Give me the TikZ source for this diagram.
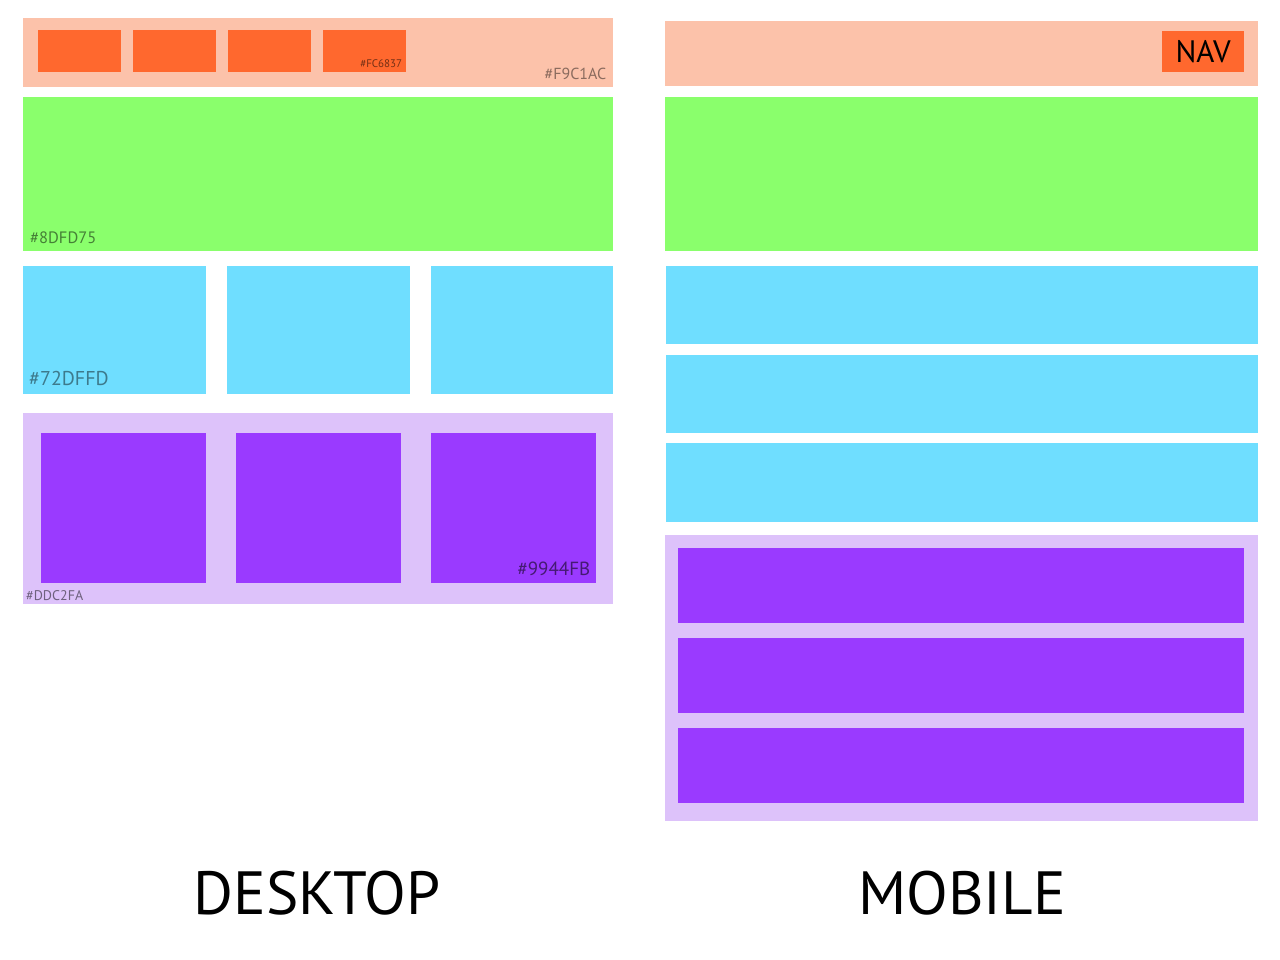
\documentclass[tikz,border=0pt]{standalone}
\usepackage{fontspec}
\setmainfont{PT Sans}
\usetikzlibrary{positioning}
\definecolor{hdrbg}{HTML}{FCC2AA}
\definecolor{navor}{HTML}{FF682E}
\definecolor{herogr}{HTML}{8AFF6C}
\definecolor{cardcy}{HTML}{6FDEFF}
\definecolor{footlv}{HTML}{DDC2FA}
\definecolor{footpu}{HTML}{9A3AFF}
\tikzset{
  box/.style={fill=#1, inner sep=0pt, anchor=north west},
  hexlbl/.style={inner sep=1pt, font=\fontsize{16}{16}\selectfont},
  title/.style={font=\fontsize{61}{61}\selectfont, text=black}
}
\begin{document}
\begin{tikzpicture}[x=1pt, y=-1pt]
\fill[white] (0,0) rectangle (1280,960);
\useasboundingbox (0,0) rectangle (1280,960);
% desktop
\node[box=hdrbg, minimum width=590pt, minimum height=69pt] (dhdr) at (23,18) {};
\node[box=navor, minimum width=83pt, minimum height=42pt] (dn1) at (38,30) {};
\node[box=navor, minimum width=83pt, minimum height=42pt] (dn2) at (133,30) {};
\node[box=navor, minimum width=83pt, minimum height=42pt] (dn3) at (228,30) {};
\node[box=navor, minimum width=83pt, minimum height=42pt] (dn4) at (323,30) {};
\node[hexlbl, anchor=south east, font=\fontsize{11}{11}\selectfont, text=navor!45!black] at ([xshift=-3pt, yshift=4pt]dn4.south east) {\#FC6837};
\node[hexlbl, anchor=south east, text=hdrbg!55!black] at ([xshift=-6pt, yshift=7pt]dhdr.south east) {\#F9C1AC};
\node[box=herogr, minimum width=590pt, minimum height=154pt] (dhero) at (23,97) {};
\node[hexlbl, anchor=south west, font=\fontsize{16.5}{16.5}\selectfont, text=herogr!50!black] at ([xshift=6pt, yshift=7pt]dhero.south west) {\#8DFD75};
\node[box=cardcy, minimum width=183pt, minimum height=128pt] (dc1) at (23,266) {};
\node[box=cardcy, minimum width=183pt, minimum height=128pt] (dc2) at (227,266) {};
\node[box=cardcy, minimum width=182pt, minimum height=128pt] (dc3) at (431,266) {};
\node[hexlbl, anchor=south west, font=\fontsize{20}{20}\selectfont, text=cardcy!55!black] at ([xshift=5pt, yshift=8pt]dc1.south west) {\#72DFFD};
\node[box=footlv, minimum width=590pt, minimum height=191pt] (dfoot) at (23,413) {};
\node[box=footpu, minimum width=165pt, minimum height=150pt] (dp1) at (41,433) {};
\node[box=footpu, minimum width=165pt, minimum height=150pt] (dp2) at (236,433) {};
\node[box=footpu, minimum width=165pt, minimum height=150pt] (dp3) at (431,433) {};
\node[hexlbl, anchor=south east, font=\fontsize{19}{19}\selectfont, text=footpu!45!black] at ([xshift=-5pt, yshift=6pt]dp3.south east) {\#9944FB};
\node[hexlbl, anchor=south west, font=\fontsize{14}{14}\selectfont, text=footlv!50!black] at ([xshift=2pt, yshift=3pt]dfoot.south west) {\#DDC2FA};
% mobile
\node[box=hdrbg, minimum width=593pt, minimum height=65pt] (mhdr) at (665,21) {};
\node[box=navor, minimum width=82pt, minimum height=41pt, font=\fontsize{31}{31}\selectfont] (mnav) at (1162,31) {NAV};
\node[box=herogr, minimum width=593pt, minimum height=154pt] (mhero) at (665,97) {};
\node[box=cardcy, minimum width=592pt, minimum height=78pt] (mc1) at (666,266) {};
\node[box=cardcy, minimum width=592pt, minimum height=78pt] (mc2) at (666,355) {};
\node[box=cardcy, minimum width=592pt, minimum height=79pt] (mc3) at (666,443) {};
\node[box=footlv, minimum width=593pt, minimum height=286pt] (mfoot) at (665,535) {};
\node[box=footpu, minimum width=566pt, minimum height=75pt] (mp1) at (678,548) {};
\node[box=footpu, minimum width=566pt, minimum height=75pt] (mp2) at (678,638) {};
\node[box=footpu, minimum width=566pt, minimum height=75pt] (mp3) at (678,728) {};
% titles
\node[title] (dtitle) at (317,893) {DESKTOP};
\node[title] (mtitle) at (962,893) {MOBILE};
\end{tikzpicture}
\end{document}
